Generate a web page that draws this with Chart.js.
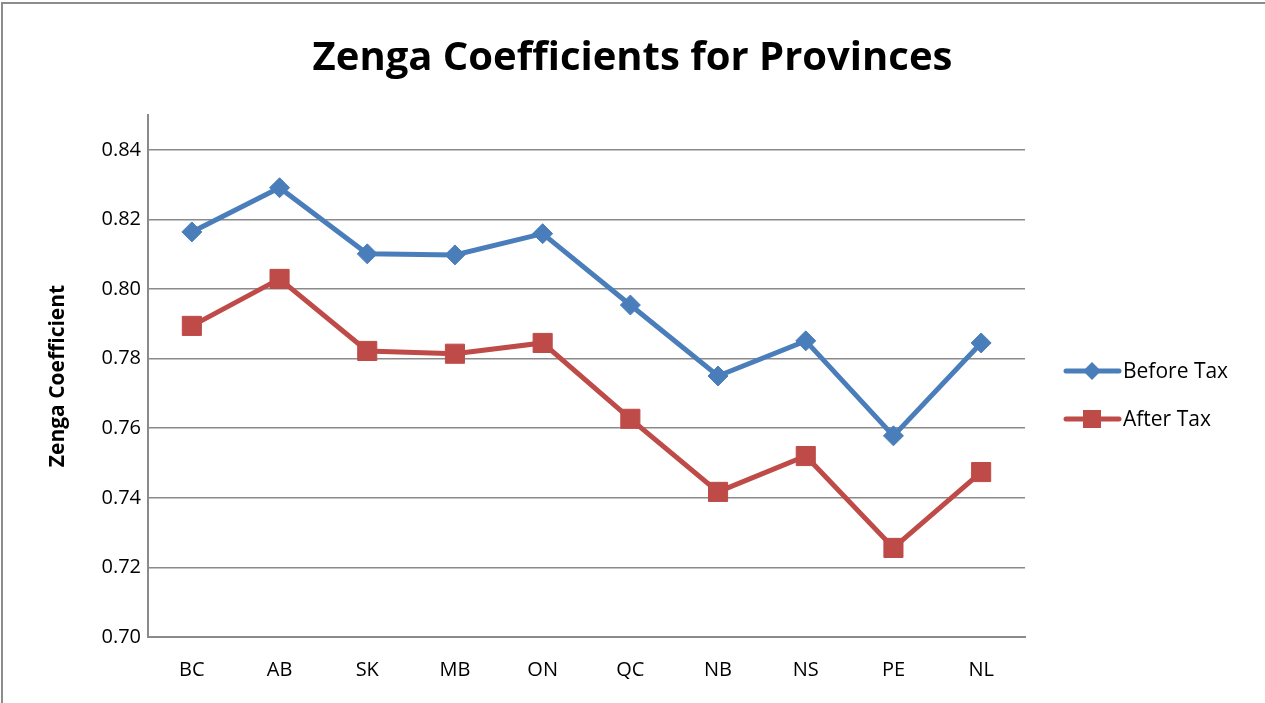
<!DOCTYPE html>
<html>
<head>
<meta charset="utf-8">
<title>Zenga Coefficients for Provinces</title>
<script src="https://cdn.jsdelivr.net/npm/chart.js@4.4.0/dist/chart.umd.min.js"></script>
<style>
  html, body { margin: 0; padding: 0; background: #fff; }
  #wrap { position: relative; width: 1265px; height: 703px; }
</style>
</head>
<body>
<div id="wrap"><canvas id="zengaChart" width="1265" height="703"></canvas></div>
<script>
// provinces and values
const provinces = ['BC', 'AB', 'SK', 'MB', 'ON', 'QC', 'NB', 'NS', 'PE', 'NL'];
const beforeTax = [0.8164, 0.8291, 0.8101, 0.8098, 0.8159, 0.7954, 0.7750, 0.7851, 0.7578, 0.7845];
const afterTax  = [0.7894, 0.8029, 0.7822, 0.7814, 0.7845, 0.7627, 0.7417, 0.7520, 0.7256, 0.7474];
const yTicks = [0.70, 0.72, 0.74, 0.76, 0.78, 0.80, 0.82, 0.84];

const blue = '#4a7ebb';
const red = '#be4b48';
const grid = '#8a8a8a';
const font = "'Open Sans', 'Liberation Sans', sans-serif";

// frame + legend on the right, drawn like the spreadsheet one
const extras = {
  id: 'extras',
  afterDraw(chart) {
    const ctx = chart.ctx;
    ctx.save();
    ctx.strokeStyle = '#8c8c8c';
    ctx.lineWidth = 2;
    ctx.strokeRect(2, 3, 1400, 900);

    const items = [
      { label: 'Before Tax', color: blue, y: 371, shape: 'diamond' },
      { label: 'After Tax', color: red, y: 419, shape: 'square' }
    ];
    items.forEach(function (it) {
      ctx.strokeStyle = it.color;
      ctx.lineWidth = 5;
      ctx.lineCap = 'round';
      ctx.beginPath();
      ctx.moveTo(1066, it.y);
      ctx.lineTo(1119, it.y);
      ctx.stroke();
      ctx.fillStyle = it.color;
      ctx.beginPath();
      if (it.shape === 'diamond') {
        ctx.moveTo(1092, it.y - 9);
        ctx.lineTo(1101, it.y);
        ctx.lineTo(1092, it.y + 9);
        ctx.lineTo(1083, it.y);
        ctx.closePath();
      } else {
        ctx.rect(1083, it.y - 9, 18, 18);
      }
      ctx.fill();
      ctx.fillStyle = '#000';
      ctx.font = '21px ' + font;
      ctx.textBaseline = 'middle';
      ctx.textAlign = 'left';
      ctx.fillText(it.label, 1123, it.y + 1);
    });
    ctx.restore();
  }
};

const zengaChart = new Chart(document.getElementById('zengaChart'), {
  type: 'line',
  data: {
    labels: provinces,
    datasets: [{
      label: 'Before Tax',
      data: beforeTax,
      borderColor: blue,
      backgroundColor: blue,
      borderWidth: 5,
      pointStyle: 'rectRot',
      pointRadius: 10,
      pointBorderWidth: 1,
      pointHoverRadius: 10,
      tension: 0
    }, {
      label: 'After Tax',
      data: afterTax,
      borderColor: red,
      backgroundColor: red,
      borderWidth: 5,
      pointStyle: 'rect',
      pointRadius: 13.5,
      pointBorderWidth: 1,
      pointHoverRadius: 13.5,
      tension: 0
    }]
  },
  options: {
    responsive: false,
    animation: false,
    layout: { padding: 0 },
    plugins: {
      legend: { display: false },
      tooltip: { enabled: false },
      title: {
        display: true,
        text: 'Zenga Coefficients for Provinces',
        color: '#000',
        font: { family: font, size: 40, weight: 'bold', lineHeight: 1.2 },
        padding: { top: 35, bottom: 32 }
      }
    },
    scales: {
      x: {
        offset: true,
        grid: { display: false, drawTicks: false },
        border: { display: true, color: grid, width: 2 },
        ticks: { color: '#000', font: { family: font, size: 20 }, padding: 21 },
        afterFit: function (scale) { scale.height = 66; }
      },
      y: {
        min: 0.70,
        max: 0.85,
        afterBuildTicks: function (scale) {
          scale.ticks = yTicks.map(function (v) { return { value: v }; });
        },
        grid: { color: grid, lineWidth: 1.5, drawTicks: false },
        border: { display: true, color: grid, width: 2 },
        ticks: {
          color: '#000',
          font: { family: font, size: 20 },
          padding: 7,
          callback: function (v) { return v.toFixed(2); }
        },
        title: {
          display: true,
          text: 'Zenga Coefficient',
          color: '#000',
          font: { family: font, size: 21, weight: 'bold' },
          padding: { top: 45, bottom: 0 }
        },
        afterFit: function (scale) { scale.width = 148; }
      },
      // empty axis that only keeps room for the legend on the right
      yRoom: {
        position: 'right',
        display: true,
        grid: { display: false, drawTicks: false },
        border: { display: false },
        ticks: { display: false },
        afterFit: function (scale) { scale.width = 240; }
      }
    }
  },
  plugins: [extras]
});
</script>
</body>
</html>
